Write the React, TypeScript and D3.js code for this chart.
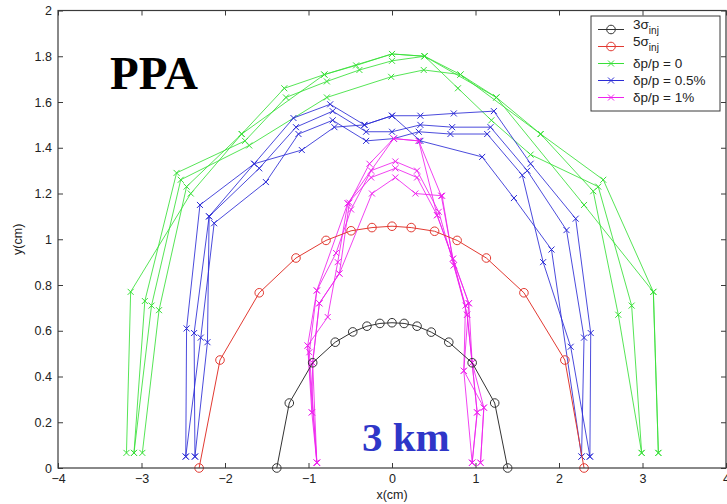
import React, { useEffect, useRef } from "react";
import * as d3 from "d3";

// beam envelopes (ellipse points)
const sigma3X = [-1.38, -1.23, -0.95, -0.68, -0.47, -0.3, -0.145, 0, 0.145, 0.3, 0.47, 0.68, 0.96, 1.23, 1.385];
const sigma3Y = [0, 0.284, 0.46, 0.55, 0.595, 0.62, 0.632, 0.635, 0.632, 0.62, 0.594, 0.55, 0.46, 0.284, 0];
const sigma5X = [-2.31, -2.06, -1.59, -1.15, -0.79, -0.49, -0.24, 0, 0.23, 0.51, 0.78, 1.13, 1.58, 2.07, 2.3];
const sigma5Y = [0, 0.472, 0.766, 0.918, 0.995, 1.037, 1.051, 1.057, 1.051, 1.035, 0.995, 0.918, 0.766, 0.472, 0];

// tracked particles, [x, y] per turn
const dp0Tracks: number[][][] = [
  [[-3.18, 0.066], [-3.13, 0.77], [-2.41, 1.2], [-1.8, 1.46], [-1.29, 1.66], [-0.81, 1.72], [-0.43, 1.76], [0, 1.81], [0.39, 1.8], [0.82, 1.72], [1.25, 1.62], [1.78, 1.46], [2.53, 1.26], [3.13, 0.77], [3.19, 0.066]],
  [[-3.09, 0.066], [-2.96, 0.73], [-2.58, 1.29], [-1.76, 1.43], [-1.27, 1.62], [-0.78, 1.69], [-0.39, 1.74], [0, 1.78], [0.39, 1.8], [0.79, 1.66], [1.19, 1.52], [1.66, 1.37], [2.47, 1.23], [2.87, 0.71], [2.99, 0.066]],
  [[-3.09, 0.066], [-2.88, 0.71], [-2.53, 1.26], [-1.71, 1.41], [-0.78, 1.62], [-0.01, 1.71], [0.38, 1.74], [0.82, 1.72], [1.78, 1.46], [2.41, 1.21], [2.71, 0.67], [2.99, 0.066]],
  [[-2.99, 0.066], [-2.79, 0.69], [-2.46, 1.23], [-1.8, 1.46], [-0.81, 1.72], [0, 1.81], [0.39, 1.8], [1.25, 1.62], [2.3, 1.15], [3.13, 0.77], [3.19, 0.066]],
];
const dp05Tracks: number[][][] = [
  [[-2.47, 0.05], [-2.46, 0.61], [-2.3, 1.15], [-1.65, 1.33], [-1.18, 1.53], [-0.74, 1.59], [-0.33, 1.5], [0, 1.54], [0.34, 1.54], [0.74, 1.55], [1.22, 1.56], [1.66, 1.33], [2.2, 1.09], [2.38, 0.59], [2.37, 0.05]],
  [[-2.36, 0.05], [-2.37, 0.59], [-2.19, 1.1], [-1.59, 1.31], [-1.15, 1.49], [-0.71, 1.56], [-0.31, 1.47], [0, 1.47], [0.34, 1.5], [0.72, 1.49], [1.18, 1.49], [1.62, 1.3], [2.09, 1.04], [2.3, 0.57], [2.27, 0.05]],
  [[-2.47, 0.05], [-2.29, 0.57], [-2.13, 1.07], [-1.51, 1.25], [-1.12, 1.46], [-0.71, 1.52], [-0.31, 1.43], [0.02, 1.44], [0.32, 1.47], [0.7, 1.46], [1.14, 1.46], [1.56, 1.28], [1.81, 0.9], [2.14, 0.53], [2.37, 0.05]],
  [[-2.36, 0.05], [-2.21, 0.55], [-2.19, 1.1], [-1.65, 1.33], [-1.08, 1.39], [-0.69, 1.49], [-0.33, 1.5], [0, 1.54], [0.34, 1.43], [1.08, 1.36], [1.46, 1.18], [1.91, 0.955], [2.27, 0.05]],
];
const dp1Tracks: number[][][] = [
  [[-0.9, 0.023], [-0.96, 0.243], [-0.95, 0.46], [-0.87, 0.72], [-0.63, 0.85], [-0.51, 1.16], [-0.27, 1.33], [0.02, 1.44], [0.32, 1.43], [0.59, 1.19], [0.73, 0.915], [0.9, 0.67], [1.02, 0.243], [0.96, 0.023]],
  [[-0.9, 0.023], [-0.99, 0.506], [-0.9, 0.776], [-0.67, 0.94], [-0.49, 1.13], [-0.25, 1.3], [0.04, 1.34], [0.3, 1.3], [0.56, 1.12], [0.74, 0.886], [0.88, 0.71], [0.86, 0.425], [1.1, 0.264], [1.06, 0.023]],
  [[-0.96, 0.243], [-1.01, 0.535], [-0.77, 0.66], [-0.65, 0.9], [-0.53, 1.157], [-0.25, 1.27], [0.04, 1.31], [0.3, 1.27], [0.54, 1.105], [0.92, 0.72], [0.96, 0.46], [1.02, 0.243], [0.96, 0.023]],
  [[-0.9, 0.023], [-0.95, 0.46], [-0.87, 0.72], [-0.63, 0.85], [-0.24, 1.2], [0.04, 1.27], [0.28, 1.2], [0.6, 1.19], [0.74, 0.886], [0.9, 0.67], [0.96, 0.46], [1.1, 0.264], [1.06, 0.023]],
  [[-0.9, 0.023], [-1.01, 0.535], [-0.9, 0.776], [-0.53, 1.157], [0.02, 1.44], [0.32, 1.43], [0.54, 1.105], [0.73, 0.915], [0.92, 0.72], [0.86, 0.425], [0.96, 0.023]],
];

const xTicks = [-4, -3, -2, -1, 0, 1, 2, 3, 4];
const yTicks = [0, 0.2, 0.4, 0.6, 0.8, 1, 1.2, 1.4, 1.6, 1.8, 2];
const yTickLabels = ["0", "0.2", "0.4", "0.6", "0.8", "1", "1.2", "1.4", "1.6", "1.8", "2"];

const colors = { s3: "#333333", s5: "#e23a32", dp0: "#38e038", dp05: "#2b2bd6", dp1: "#ee22ee" };

const W = 727;
const H = 504;

const App = () => {
  const svgRef = useRef<SVGSVGElement>(null);

  useEffect(() => {
    const svg = d3.select(svgRef.current);
    svg.selectAll("*").remove();

    const x = d3.scaleLinear().domain([-4, 4]).range([58, 726]);
    const y = d3.scaleLinear().domain([0, 2]).range([468, 10.5]);
    const font = "'Liberation Sans', Arial, sans-serif";

    svg.append("rect").attr("width", W).attr("height", H).attr("fill", "#fff");

    const line = d3
      .line<number[]>()
      .x((d) => x(d[0]))
      .y((d) => y(d[1]));

    const drawX = (g: any, px: number, py: number, color: string, s = 3) => {
      g.append("path")
        .attr("d", `M${px - s},${py - s}L${px + s},${py + s}M${px - s},${py + s}L${px + s},${py - s}`)
        .attr("stroke", color)
        .attr("stroke-width", 1)
        .attr("fill", "none");
    };

    // tracking lines
    const tracks: [number[][][], string][] = [
      [dp0Tracks, colors.dp0],
      [dp05Tracks, colors.dp05],
      [dp1Tracks, colors.dp1],
    ];
    tracks.forEach(([set, color]) => {
      const g = svg.append("g");
      set.forEach((pts) => {
        g.append("path")
          .attr("d", line(pts))
          .attr("fill", "none")
          .attr("stroke", color)
          .attr("stroke-width", 1)
          .attr("stroke-opacity", 0.85);
        pts.forEach((p) => drawX(g, x(p[0]), y(p[1]), color));
      });
    });

    // envelopes
    const envs: [number[], number[], string][] = [
      [sigma3X, sigma3Y, colors.s3],
      [sigma5X, sigma5Y, colors.s5],
    ];
    envs.forEach(([xs, ys, color]) => {
      const pts = xs.map((v, i) => [v, ys[i]]);
      const g = svg.append("g");
      g.append("path")
        .attr("d", line(pts))
        .attr("fill", "none")
        .attr("stroke", color)
        .attr("stroke-width", 1);
      g.selectAll("circle")
        .data(pts)
        .join("circle")
        .attr("cx", (d) => x(d[0]))
        .attr("cy", (d) => y(d[1]))
        .attr("r", 4.3)
        .attr("fill", "none")
        .attr("stroke", color)
        .attr("stroke-width", 1);
    });

    // axes (MATLAB box with inward ticks)
    const axisColor = "#3a3a3a";
    const styleAxis = (g: any) => {
      g.select(".domain").remove();
      g.selectAll("line").attr("stroke", axisColor);
      g.selectAll("text").attr("fill", "#222").style("font-family", font).style("font-size", "12.5px");
    };
    svg.append("g")
      .attr("transform", `translate(0,${y(0)})`)
      .call(d3.axisBottom(x).tickValues(xTicks).tickSize(-5).tickPadding(6).tickFormat((d: any) => (d < 0 ? "\u2212" + Math.abs(d) : String(d))))
      .call(styleAxis);
    svg.append("g")
      .attr("transform", `translate(0,${y(2)})`)
      .call(d3.axisTop(x).tickValues(xTicks).tickSize(-5).tickFormat(() => ""))
      .call(styleAxis);
    svg.append("g")
      .attr("transform", `translate(${x(-4)},0)`)
      .call(d3.axisLeft(y).tickValues(yTicks).tickSize(-5).tickPadding(6).tickFormat((d, i) => yTickLabels[i]))
      .call(styleAxis);
    svg.append("g")
      .attr("transform", `translate(${x(4)},0)`)
      .call(d3.axisRight(y).tickValues(yTicks).tickSize(-5).tickFormat(() => ""))
      .call(styleAxis);
    svg.append("rect")
      .attr("x", x(-4))
      .attr("y", y(2))
      .attr("width", x(4) - x(-4))
      .attr("height", y(0) - y(2))
      .attr("fill", "none")
      .attr("stroke", axisColor)
      .attr("stroke-width", 1.2);

    svg.append("text")
      .attr("x", x(0))
      .attr("y", 499)
      .attr("text-anchor", "middle")
      .style("font-family", font)
      .style("font-size", "12.5px")
      .attr("fill", "#222")
      .text("x(cm)");
    svg.append("text")
      .attr("transform", `translate(22,${y(1)}) rotate(-90)`)
      .attr("text-anchor", "middle")
      .style("font-family", font)
      .style("font-size", "12.5px")
      .attr("fill", "#222")
      .text("y(cm)");

    // annotations
    svg.append("text")
      .attr("x", 110)
      .attr("y", 89)
      .style("font-family", "'Liberation Serif', 'Times New Roman', serif")
      .style("font-weight", "bold")
      .style("font-size", "47px")
      .attr("fill", "#000")
      .text("PPA");
    svg.append("text")
      .attr("x", 362)
      .attr("y", 451)
      .style("font-family", "'Liberation Serif', 'Times New Roman', serif")
      .style("font-weight", "bold")
      .style("font-size", "41px")
      .attr("fill", "#2f36c8")
      .text("3 km");

    // legend
    const lg = svg.append("g");
    lg.append("rect")
      .attr("x", 591)
      .attr("y", 16)
      .attr("width", 129)
      .attr("height", 95)
      .attr("fill", "#fff")
      .attr("stroke", axisColor);
    const items = [
      { main: "3σ", sub: "inj", color: colors.s3, mark: "o" },
      { main: "5σ", sub: "inj", color: colors.s5, mark: "o" },
      { main: "δp/p = 0", sub: "", color: colors.dp0, mark: "x" },
      { main: "δp/p = 0.5%", sub: "", color: colors.dp05, mark: "x" },
      { main: "δp/p = 1%", sub: "", color: colors.dp1, mark: "x" },
    ];
    const rowY = [29.5, 46.5, 63.5, 80.5, 97.5];
    items.forEach((it, i) => {
      const cy = rowY[i];
      lg.append("line").attr("x1", 598).attr("x2", 624).attr("y1", cy).attr("y2", cy).attr("stroke", it.color);
      if (it.mark === "o") {
        lg.append("circle").attr("cx", 611).attr("cy", cy).attr("r", 4.3).attr("fill", "none").attr("stroke", it.color);
      } else {
        drawX(lg, 611, cy, it.color);
      }
      const t = lg.append("text")
        .attr("x", 633)
        .attr("y", it.sub ? cy - 1 : cy + 4.5)
        .style("font-family", font)
        .style("font-size", "13.5px")
        .attr("fill", "#222")
        .text(it.main);
      if (it.sub) {
        t.append("tspan").attr("dy", 5).style("font-size", "10px").text(it.sub);
      }
    });
  }, []);

  return (
    <svg
      ref={svgRef}
      width={W}
      height={H}
      style={{ position: "absolute", left: 0, top: 0 }}
    ></svg>
  );
};

export default App;
